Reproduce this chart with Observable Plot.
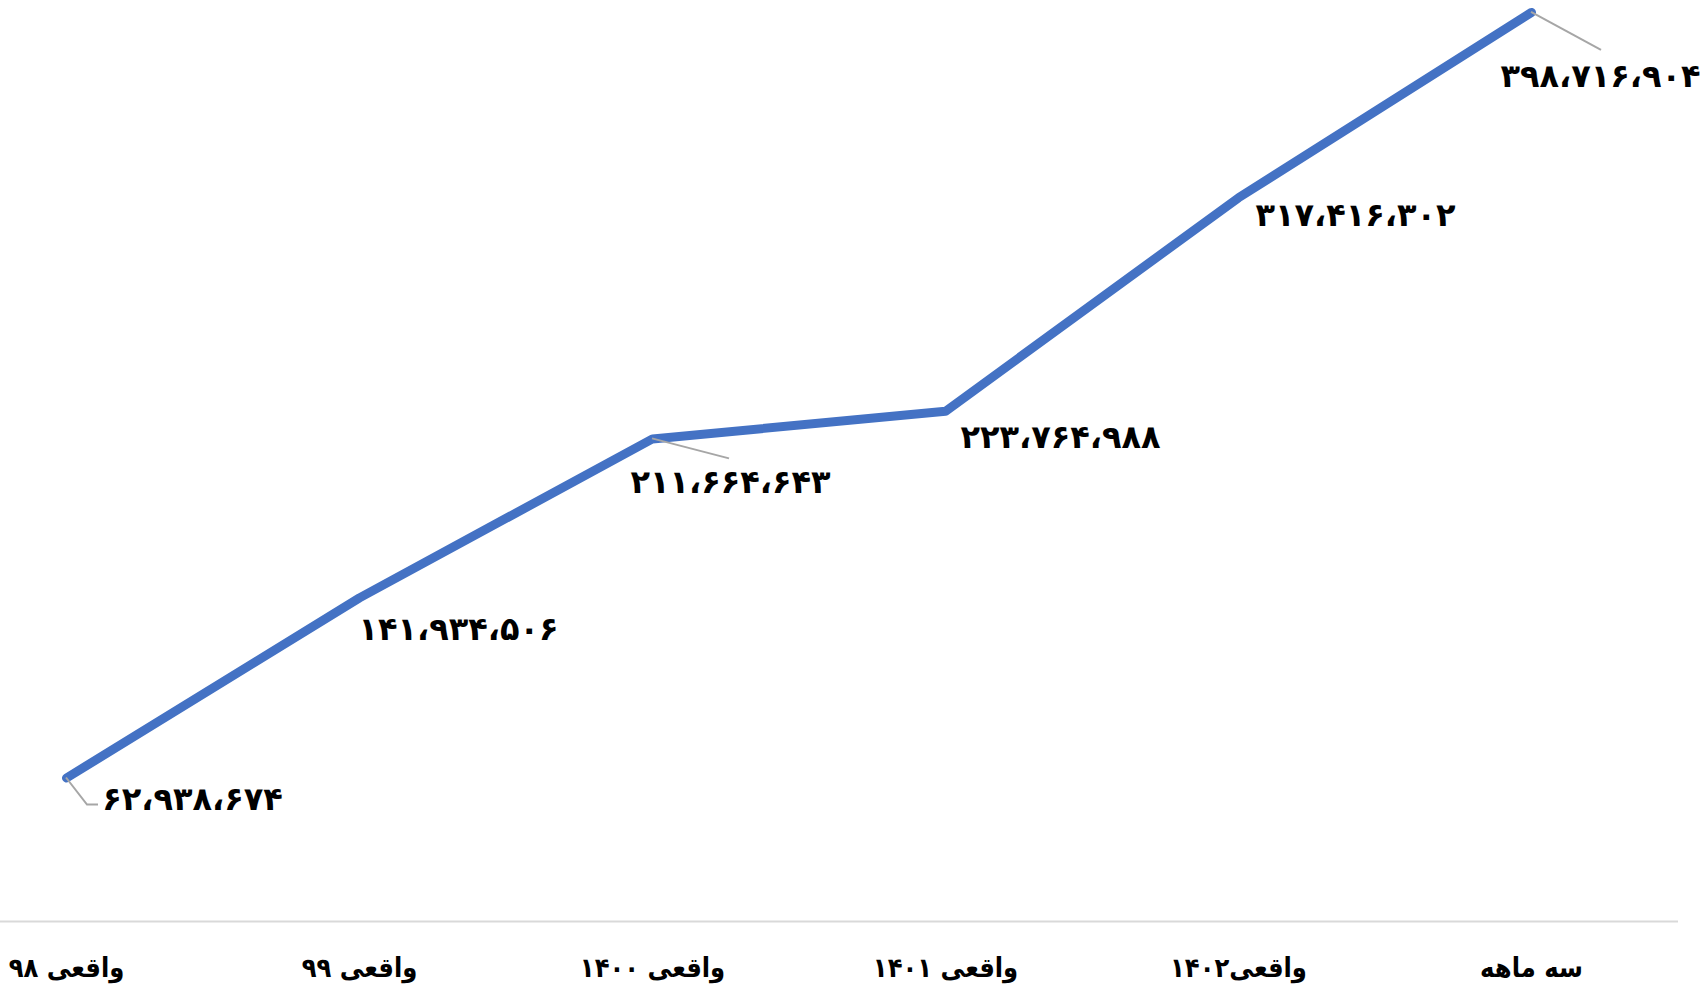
<!DOCTYPE html>
<html><head><meta charset="utf-8">
<script src="https://cdn.jsdelivr.net/npm/d3@7"></script>
<script src="https://cdn.jsdelivr.net/npm/@observablehq/plot@0.6"></script>
<style>body{margin:0;background:#fff;overflow:hidden}</style>
</head><body><div id="chart"></div>
<script>
// Data
const categories = ["واقعی ۹۸", "واقعی ۹۹", "واقعی ۱۴۰۰", "واقعی ۱۴۰۱", "واقعی۱۴۰۲", "سه ماهه"];
const values = [62938674, 141934506, 211664643, 223764988, 317416302, 398716904];

// Label layout (pixels, relative to each point)
const labelDx = [126, 99, 78, 115, 117, 69];
const labelDy = [22, 32, 44, 26, 18, 64];
const leaderPaths = [[[0,0],[21,27],[32,27]], null, [[0,0],[77,20]], null, null, [[0,0],[70,38]]];

const persianDigits = "۰۱۲۳۴۵۶۷۸۹";
function fmt(v) {
  return d3.format(",")(v).replace(/,/g, "،").replace(/[0-9]/g, c => persianDigits[+c]);
}
const data = categories.map((c, i) => ({cat: c, value: values[i], label: fmt(values[i])}));

const W = 1703, H = 994;
const font = "DejaVu Sans";
const plot = Plot.plot({
  width: W, height: H,
  marginLeft: 0, marginRight: 25, marginTop: 9, marginBottom: 73,
  style: {background: "#fff", fontFamily: font},
  x: {type: "point", domain: categories, range: [65, 1532], padding: 0, align: 0.5, label: null, axis: null},
  y: {domain: [0, 400000000], axis: null},
  marks: [
    Plot.axisX({tickSize: 0, tickPadding: 36, fontSize: 27, fontWeight: "bold", fill: "#000", label: null,
      fontFamily: "'DejaVu Sans Condensed', 'DejaVu Sans'"}),
    Plot.ruleY([0], {stroke: "#d9d9d9", strokeWidth: 2}),
    Plot.line(data, {x: "cat", y: "value", stroke: "#4472C4", strokeWidth: 9, strokeLinecap: "round", strokeLinejoin: "round"}),
    ...data.map((d, i) => Plot.text([d], {x: "cat", y: "value", text: "label", dx: labelDx[i], dy: labelDy[i],
      fontSize: 32, fontWeight: "bold", fill: "#000"}))
  ]
});

// leader lines, positioned via the plot's own scales
const sx = plot.scale("x"), sy = plot.scale("y");
const svg = d3.select(plot.tagName === "svg" ? plot : plot.querySelector("svg"));
data.forEach((d, i) => {
  const p = leaderPaths[i];
  if (!p) return;
  const x0 = sx.apply(d.cat), y0 = sy.apply(d.value);
  svg.append("path")
    .attr("d", d3.line()(p.map(([a, b]) => [x0 + a, y0 + b])))
    .attr("fill", "none").attr("stroke", "#a6a6a6").attr("stroke-width", 2);
});
document.getElementById("chart").appendChild(plot);
</script>
</body></html>
